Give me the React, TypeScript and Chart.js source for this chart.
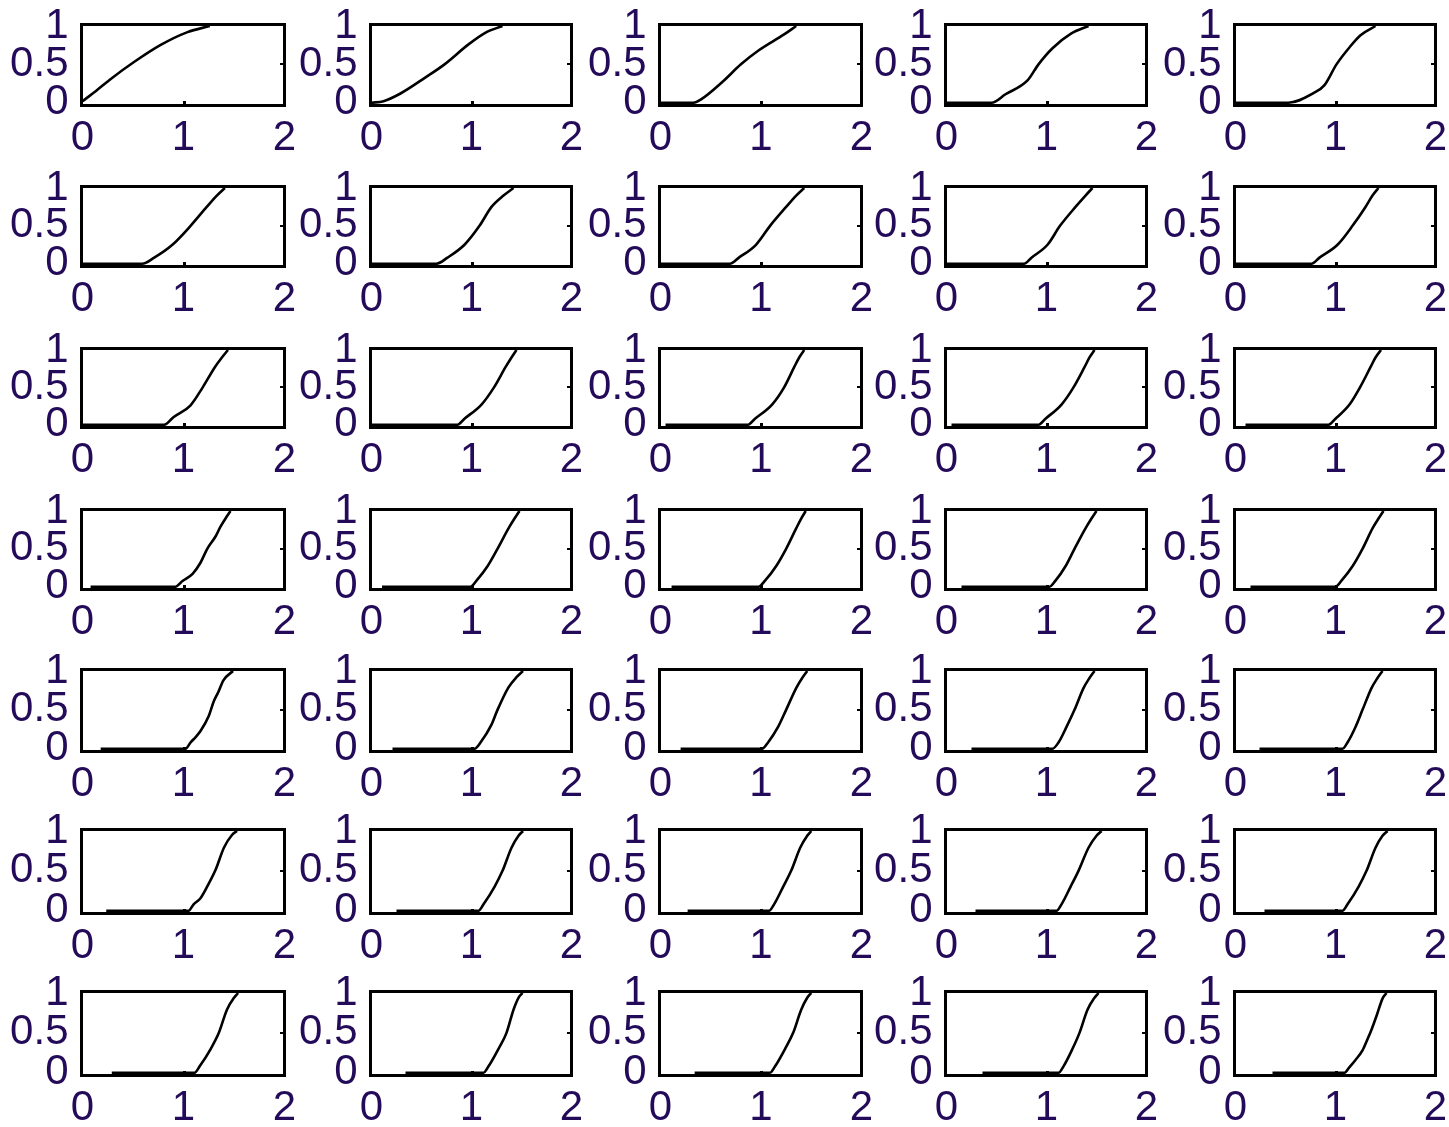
import React, { useEffect, useRef } from 'react';
import { Chart, registerables } from 'chart.js';

Chart.register(...registerables);

// ---- tick values / labels ----
const xTicks = [0, 1, 2];
const xTickLabels = ['0', '1', '2'];
const yTicks = [0, 0.5, 1];
const yTickLabels = ['0', '0.5', '1'];

// ---- curve data, one entry per subplot (row-major, 7 rows x 5 columns) ----
const curveX: number[][] = [
  [0, 0.13, 0.28, 0.51, 0.77, 1.04, 1.26],
  [0, 0.12, 0.29, 0.54, 0.73, 0.97, 1.15, 1.31],
  [0, 0.33, 0.4, 0.615, 0.8, 0.975, 1.23, 1.35],
  [0, 0.45, 0.59, 0.81, 0.92, 1.06, 1.245, 1.42],
  [0, 0.53, 0.78, 0.89, 1.01, 1.145, 1.25, 1.4],
  [0, 0.59, 0.71, 0.89, 1.07, 1.23, 1.33, 1.41],
  [0, 0.65, 0.76, 0.93, 1.08, 1.2, 1.32, 1.42],
  [0, 0.69, 0.78, 0.95, 1.09, 1.25, 1.35, 1.43],
  [0, 0.775, 0.85, 1.01, 1.135, 1.29, 1.39, 1.46],
  [0, 0.76, 0.84, 1.02, 1.17, 1.3, 1.37, 1.43],
  [0, 0.81, 0.9, 1.07, 1.19, 1.315, 1.38, 1.44],
  [0, 0.86, 0.93, 1.1, 1.225, 1.34, 1.4, 1.45],
  [0.05, 0.87, 0.94, 1.11, 1.23, 1.33, 1.38, 1.43],
  [0.05, 0.92, 0.99, 1.15, 1.27, 1.38, 1.43, 1.48],
  [0.1, 0.93, 1.0, 1.14, 1.245, 1.35, 1.4, 1.455],
  [0.08, 0.92, 0.99, 1.09, 1.165, 1.235, 1.32, 1.365, 1.43, 1.465],
  [0.105, 0.99, 1.05, 1.16, 1.26, 1.37, 1.43, 1.48],
  [0.11, 0.975, 1.04, 1.15, 1.25, 1.35, 1.4, 1.445],
  [0.15, 1.03, 1.09, 1.19, 1.28, 1.39, 1.45, 1.5],
  [0.15, 1.0, 1.06, 1.17, 1.27, 1.37, 1.43, 1.48],
  [0.18, 1.02, 1.07, 1.12, 1.17, 1.25, 1.3, 1.345, 1.395, 1.49],
  [0.21, 1.03, 1.09, 1.2, 1.26, 1.37, 1.45, 1.515],
  [0.2, 1.01, 1.07, 1.17, 1.25, 1.35, 1.41, 1.46],
  [0.25, 1.06, 1.12, 1.2, 1.28, 1.37, 1.43, 1.48],
  [0.24, 1.07, 1.12, 1.2, 1.27, 1.36, 1.42, 1.47],
  [0.235, 1.05, 1.1, 1.17, 1.25, 1.32, 1.4, 1.48, 1.53],
  [0.25, 1.07, 1.12, 1.23, 1.31, 1.4, 1.47, 1.515],
  [0.27, 1.08, 1.13, 1.22, 1.3, 1.39, 1.46, 1.5],
  [0.29, 1.1, 1.15, 1.24, 1.32, 1.42, 1.5, 1.55],
  [0.29, 1.07, 1.12, 1.23, 1.31, 1.4, 1.47, 1.52],
  [0.29, 1.11, 1.16, 1.27, 1.35, 1.43, 1.5, 1.54],
  [0.34, 1.12, 1.17, 1.27, 1.35, 1.42, 1.47, 1.51],
  [0.34, 1.09, 1.14, 1.24, 1.32, 1.4, 1.46, 1.5],
  [0.36, 1.12, 1.17, 1.26, 1.33, 1.41, 1.48, 1.52],
  [0.37, 1.09, 1.14, 1.2, 1.27, 1.32, 1.36, 1.415, 1.47, 1.51],
];

const curveY: number[][] = [
  [0.02, 0.15, 0.31, 0.53, 0.75, 0.92, 1],
  [0, 0.02, 0.12, 0.33, 0.5, 0.76, 0.92, 1],
  [0, 0, 0.04, 0.27, 0.5, 0.68, 0.89, 1],
  [0, 0, 0.11, 0.29, 0.5, 0.71, 0.9, 1],
  [0, 0, 0.125, 0.23, 0.5, 0.73, 0.88, 1],
  [0, 0, 0.08, 0.25, 0.5, 0.75, 0.9, 1],
  [0, 0, 0.08, 0.25, 0.5, 0.75, 0.9, 1],
  [0, 0, 0.08, 0.25, 0.5, 0.75, 0.9, 1],
  [0, 0, 0.08, 0.25, 0.5, 0.75, 0.9, 1],
  [0, 0, 0.08, 0.25, 0.5, 0.75, 0.9, 1],
  [0, 0, 0.1, 0.26, 0.5, 0.78, 0.9, 1],
  [0, 0, 0.08, 0.27, 0.5, 0.77, 0.9, 1],
  [0, 0, 0.08, 0.27, 0.5, 0.77, 0.9, 1],
  [0, 0, 0.08, 0.27, 0.5, 0.77, 0.9, 1],
  [0, 0, 0.08, 0.27, 0.5, 0.77, 0.9, 1],
  [0, 0, 0.075, 0.17, 0.31, 0.5, 0.67, 0.79, 0.93, 1],
  [0, 0, 0.08, 0.27, 0.5, 0.77, 0.9, 1],
  [0, 0, 0.08, 0.27, 0.5, 0.77, 0.9, 1],
  [0, 0, 0.08, 0.27, 0.5, 0.77, 0.9, 1],
  [0, 0, 0.08, 0.27, 0.5, 0.77, 0.9, 1],
  [0, 0, 0.08, 0.15, 0.23, 0.42, 0.61, 0.73, 0.88, 1],
  [0, 0, 0.08, 0.31, 0.5, 0.79, 0.92, 1],
  [0, 0, 0.08, 0.28, 0.5, 0.78, 0.91, 1],
  [0, 0, 0.08, 0.28, 0.5, 0.78, 0.91, 1],
  [0, 0, 0.08, 0.28, 0.5, 0.78, 0.91, 1],
  [0, 0, 0.08, 0.16, 0.34, 0.52, 0.79, 0.95, 1],
  [0, 0, 0.08, 0.3, 0.5, 0.79, 0.94, 1],
  [0, 0, 0.08, 0.3, 0.5, 0.79, 0.94, 1],
  [0, 0, 0.08, 0.3, 0.5, 0.79, 0.94, 1],
  [0, 0, 0.08, 0.3, 0.5, 0.79, 0.94, 1],
  [0, 0, 0.08, 0.3, 0.5, 0.79, 0.94, 1],
  [0, 0, 0.08, 0.3, 0.5, 0.79, 0.94, 1],
  [0, 0, 0.08, 0.3, 0.5, 0.79, 0.94, 1],
  [0, 0, 0.08, 0.3, 0.5, 0.79, 0.94, 1],
  [0, 0, 0.07, 0.16, 0.28, 0.42, 0.54, 0.73, 0.93, 1],
];

// ---- layout (page pixels of the axes boxes) ----
const colLeft = [80, 369, 658, 944, 1233];
const colRight = [286, 573, 863, 1148, 1437];
const rowTop = [23, 185, 347, 508, 668, 828, 990];
const rowBottom = [107, 268, 429, 591, 753, 915, 1077];

const CW = 330;
const CH = 165;
const TEXT_COLOR = '#240b5a';
const FONT = { family: '"Liberation Sans", Arial, Helvetica, sans-serif', size: 42 };
const ZERO_OFFSET = 4.3; // distance of y=0 above the outer bottom edge of the box

const boxPlugin = {
  id: 'matlabBox',
  afterDatasetsDraw(chart: any) {
    const { ctx, chartArea: a, scales } = chart;
    const bl = a.left - 2.5;
    const br = a.right + 1.5;
    const bt = a.top - 3;
    const bb = a.bottom + ZERO_OFFSET;
    ctx.save();
    ctx.fillStyle = '#000';
    ctx.fillRect(bl, bt, br - bl, 3);
    ctx.fillRect(bl, bb - 3, br - bl, 3);
    ctx.fillRect(bl, bt, 3, bb - bt);
    ctx.fillRect(br - 3, bt, 3, bb - bt);
    const x1 = Math.round(scales.x.getPixelForValue(1));
    ctx.fillRect(x1 - 1, bb - 6, 3, 3);
    const y05 = Math.round(scales.y.getPixelForValue(0.5));
    ctx.fillRect(br - 6, y05 - 1, 3, 2);
    ctx.restore();
  },
};

function Panel({ idx }: { idx: number }) {
  const ref = useRef<HTMLCanvasElement>(null);
  const row = Math.floor(idx / 5);
  const col = idx % 5;
  const lx = colLeft[col];
  const rx = colRight[col];
  const ty = rowTop[row];
  const by = rowBottom[row];
  const cLeft = lx - 80;
  const cTop = ty - 22;
  const areaLeft = 82.5;
  const areaTop = 25;
  const areaRight = rx - lx + 78.5;
  const areaBottom = by - ty + 22 - ZERO_OFFSET;

  useEffect(() => {
    const xs = curveX[idx];
    const ys = curveY[idx];
    const chart = new Chart(ref.current as HTMLCanvasElement, {
      type: 'line',
      data: {
        datasets: [
          {
            data: xs.map((x, i) => ({ x, y: ys[i] })),
            borderColor: '#000',
            borderWidth: 2.6,
            pointRadius: 0,
            fill: false,
            clip: false,
            cubicInterpolationMode: 'monotone',
          } as any,
        ],
      },
      options: {
        animation: false,
        responsive: false,
        devicePixelRatio: 1,
        events: [],
        layout: {
          autoPadding: false,
          padding: { left: 0, top: areaTop, right: CW - areaRight, bottom: 0 },
        },
        plugins: { legend: { display: false }, tooltip: { enabled: false } },
        scales: {
          x: {
            type: 'linear',
            min: 0,
            max: 2,
            grid: { display: false, drawTicks: false },
            border: { display: false },
            ticks: {
              color: TEXT_COLOR,
              font: FONT,
              padding: 11,
              maxRotation: 0,
              autoSkip: false,
              callback: (v: any) => {
                const i = xTicks.indexOf(Number(v));
                return i >= 0 ? xTickLabels[i] : '';
              },
            },
            afterBuildTicks: (s: any) => {
              s.ticks = xTicks.map((v) => ({ value: v }));
            },
            afterFit: (s: any) => {
              s.height = CH - areaBottom;
              s.paddingLeft = 0;
              s.paddingRight = 0;
              s.paddingTop = 0;
              s.paddingBottom = 0;
            },
          },
          y: {
            type: 'linear',
            min: 0,
            max: 1,
            grid: { display: false, drawTicks: false },
            border: { display: false },
            ticks: {
              color: TEXT_COLOR,
              font: FONT,
              padding: 14,
              autoSkip: false,
              callback: (v: any) => {
                const i = yTicks.indexOf(Number(v));
                return i >= 0 ? yTickLabels[i] : '';
              },
            },
            afterBuildTicks: (s: any) => {
              s.ticks = yTicks.map((v) => ({ value: v }));
            },
            afterFit: (s: any) => {
              s.width = areaLeft;
              s.paddingLeft = 0;
              s.paddingRight = 0;
              s.paddingTop = 0;
              s.paddingBottom = 0;
            },
          },
        },
      },
      plugins: [boxPlugin],
    });
    return () => chart.destroy();
  }, [idx]);

  return (
    <canvas
      ref={ref}
      width={CW}
      height={CH}
      style={{ position: 'absolute', left: cLeft, top: cTop, width: CW, height: CH }}
    />
  );
}

export default function App() {
  const panels = [];
  for (let i = 0; i < curveX.length; i++) panels.push(<Panel key={i} idx={i} />);
  return (
    <div
      style={{
        position: 'absolute',
        left: 0,
        top: 0,
        width: 1449,
        height: 1127,
        overflow: 'hidden',
        background: '#fff',
      }}
    >
      {panels}
    </div>
  );
}
